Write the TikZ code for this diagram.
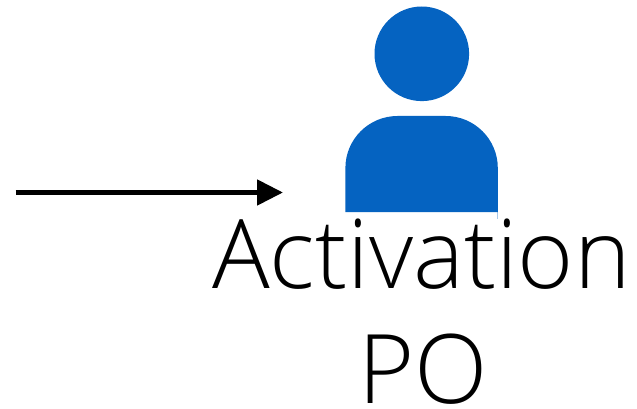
\documentclass[tikz,border=0pt]{standalone}
\usepackage{fontspec}
\setmainfont{Open Sans Light}
\usetikzlibrary{arrows.meta}
\definecolor{pblue}{HTML}{0563C1}
\tikzset{bigtext/.style={font=\fontsize{96}{96}\selectfont,inner sep=0pt,anchor=base}}
\begin{document}
\begin{tikzpicture}[x=1pt,y=-1pt]
\useasboundingbox (0,0) rectangle (637,409);
\fill[white] (0,0) rectangle (637,409);
\fill[pblue] (421.8,53.8) circle (47.3);
\draw[pblue!35,line width=0.8pt] (497.6,212) -- (497.6,219);
\fill[pblue] (345.4,212) -- (345.4,168) .. controls (345.4,139.3) and (368.8,116) .. (397.5,116) -- (445.7,116) .. controls (474.4,116) and (497.8,139.3) .. (497.8,168) -- (497.8,212) -- cycle;
\coordinate (s) at (15.5,192.5);
\coordinate (e) at (283,192.5);
\draw[line width=5pt,-{Triangle[length=26pt,width=25pt]}] (s) -- (e);
\node[bigtext] (a) at (421.5,288.5) {Activation};
\node[bigtext] (p) at (423,403) {PO};
\end{tikzpicture}
\end{document}
